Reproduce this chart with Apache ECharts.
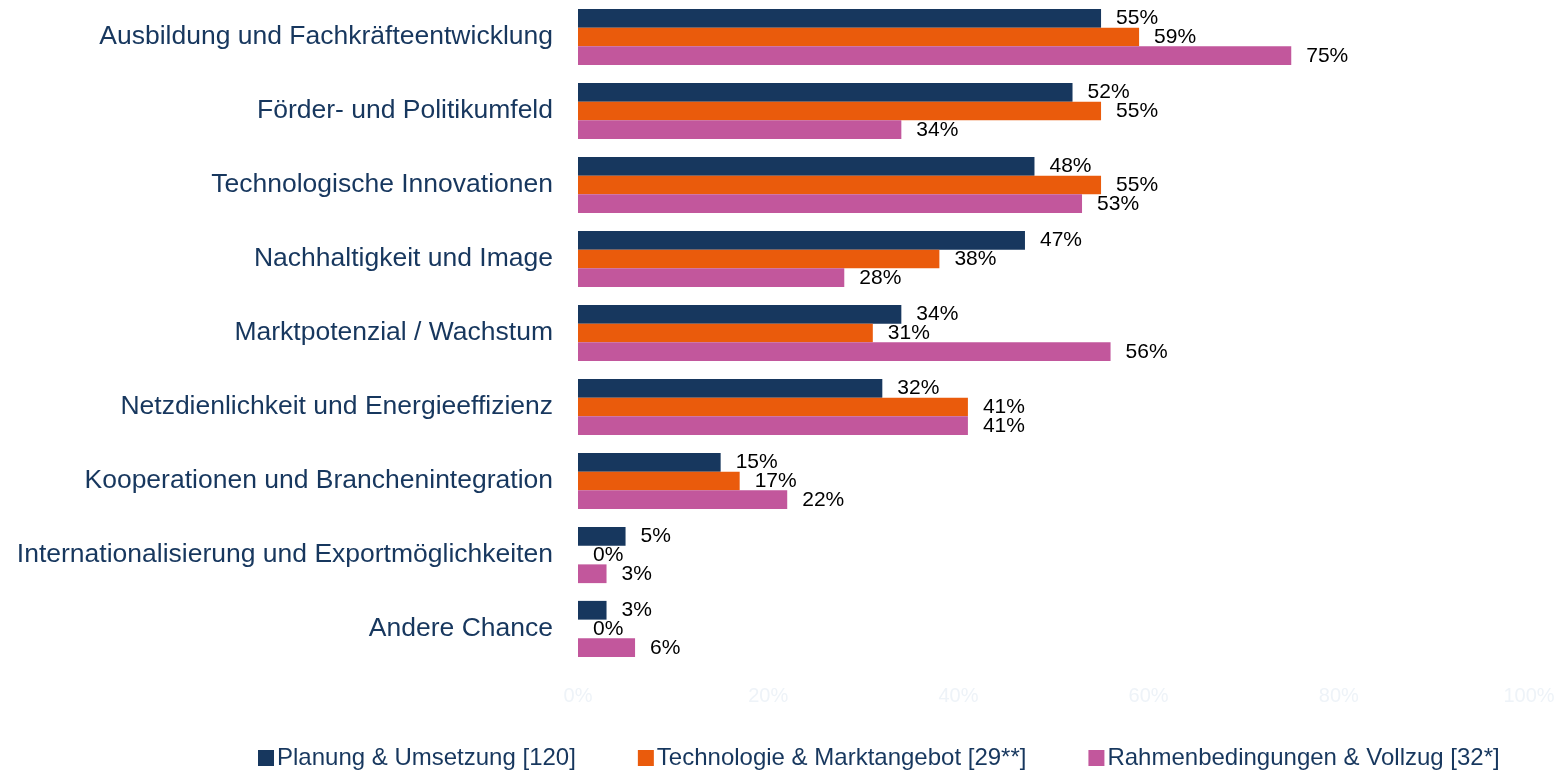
<!DOCTYPE html>
<html>
<head>
<meta charset="utf-8">
<script src="https://cdn.jsdelivr.net/npm/echarts@6/dist/echarts.min.js"></script>
<style>
  html, body { margin: 0; padding: 0; background: #ffffff; }
  #chart { width: 1560px; height: 772px; }
</style>
</head>
<body>
<div id="chart"></div>
<script>
// Chancen nach Akteursgruppe (Anteil der Nennungen in %)
const categories = [
  'Ausbildung und Fachkräfteentwicklung',
  'Förder- und Politikumfeld',
  'Technologische Innovationen',
  'Nachhaltigkeit und Image',
  'Marktpotenzial / Wachstum',
  'Netzdienlichkeit und Energieeffizienz',
  'Kooperationen und Branchenintegration',
  'Internationalisierung und Exportmöglichkeiten',
  'Andere Chance'
];
const seriesNames = [
  'Planung & Umsetzung [120]',
  'Technologie & Marktangebot [29**]',
  'Rahmenbedingungen & Vollzug [32*]'
];
const planung = [55, 52, 48, 47, 34, 32, 15, 5, 3];
const technologie = [59, 55, 55, 38, 31, 41, 17, 0, 0];
const rahmen = [75, 34, 53, 28, 56, 41, 22, 3, 6];
const xTicks = [0, 20, 40, 60, 80, 100];

const colors = ['#17375E', '#EA5B0C', '#C2579C'];
const font = '"Liberation Sans", Arial, sans-serif';

const chart = echarts.init(document.getElementById('chart'));

function makeSeries(name, data, color) {
  return {
    name: name,
    type: 'bar',
    data: data,
    barGap: '0%',
    barCategoryGap: '24%',
    itemStyle: { color: color },
    label: {
      show: true,
      position: 'right',
      distance: 15,
      formatter: '{c}%',
      color: '#000000',
      fontFamily: font,
      fontSize: 21
    }
  };
}

chart.setOption({
  animation: false,
  textStyle: { fontFamily: font },
  grid: { left: 578, right: 31, top: 0, height: 666, containLabel: false },
  legend: {
    left: 253,
    top: 741,
    itemWidth: 16,
    itemHeight: 16,
    itemGap: 62,
    icon: 'rect',
    textStyle: { fontFamily: font, fontSize: 24, color: '#17375E', padding: [0, 0, 0, -2] },
    data: seriesNames
  },
  xAxis: {
    type: 'value',
    min: xTicks[0],
    max: xTicks[xTicks.length - 1],
    interval: xTicks[1] - xTicks[0],
    axisLine: { show: false },
    axisTick: { show: false },
    splitLine: { show: false },
    axisLabel: {
      formatter: '{value}%',
      color: '#EEF3F8',
      fontFamily: font,
      fontSize: 20,
      margin: 20
    }
  },
  yAxis: {
    type: 'category',
    inverse: true,
    data: categories,
    axisLine: { show: false },
    axisTick: { show: false },
    axisLabel: {
      color: '#17375E',
      fontFamily: font,
      fontSize: 26.5,
      margin: 25
    }
  },
  series: [
    makeSeries(seriesNames[0], planung, colors[0]),
    makeSeries(seriesNames[1], technologie, colors[1]),
    makeSeries(seriesNames[2], rahmen, colors[2])
  ]
});
</script>
</body>
</html>
